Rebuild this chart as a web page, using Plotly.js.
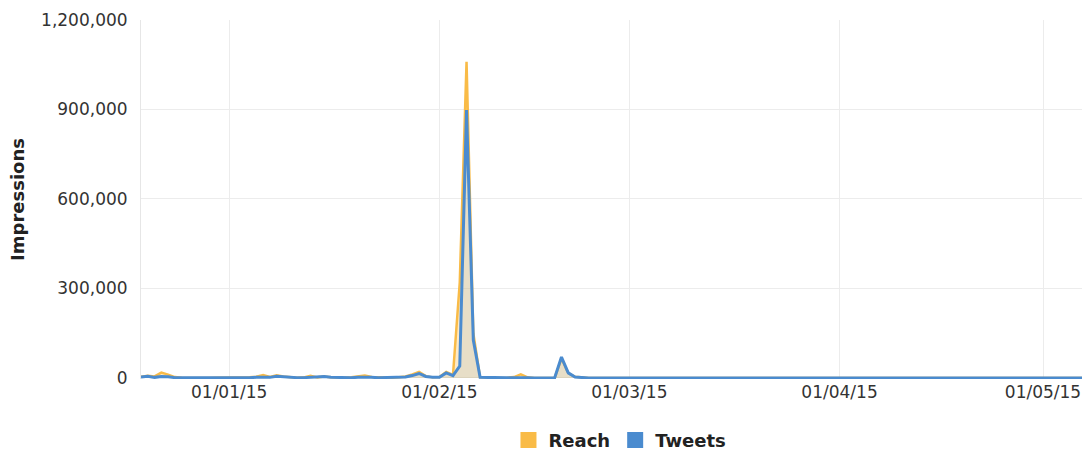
<!DOCTYPE html>
<html>
<head>
<meta charset="utf-8">
<script src="https://cdn.plot.ly/plotly-3.0.1.min.js"></script>
<style>
  html, body { margin: 0; padding: 0; background: #ffffff; }
  #chart { width: 1082px; height: 451px; }
</style>
</head>
<body>
<div id="chart"></div>
<script>
// Daily series, first day 2014-12-19
const startDate = '2014-12-19';
const seriesNames = ['Reach', 'Tweets'];
const reach = [
  4000, 7000, 5000, 18000, 11000, 3000, 1000, 500, 2000, 1000, 0, 1000, 1000,           // Dec 19-31
  500, 1000, 500, 2000, 4000, 10000, 3000, 9000, 5000, 3000, 1000, 2000, 7000, 2000,   // Jan 1-14
  5000, 2000, 1000, 1000, 2000, 4000, 8000, 3000, 2000, 1000, 1000, 2000, 5000, 12000, // Jan 15-28
  20000, 6000, 2000,                                                                  // Jan 29-31
  3000, 20000, 10000, 320000, 1060000, 150000, 2000, 1000, 1000, 0, 1000, 3000, 12000, 2000, // Feb 1-14
  0, 500, 1000, 1000, 65000, 16000, 4000, 1000, 0, 0, 0, 0, 0, 0,                       // Feb 15-28
  0,0,0,0,0,0,0,0,0,0,0,0,0,0,0,0,0,0,0,0,0,0,0,0,0,0,0,0,0,0,0,                       // Mar
  0,0,0,0,0,0,0,0,0,0,0,0,0,0,0,0,0,0,0,0,0,0,0,0,0,0,0,0,0,0,                         // Apr
  0,0,0,0,0,0,0                                                                       // May 1-7
];
const tweets = [
  3000, 6000, 2000, 5000, 4000, 1000, 1000, 500, 1000, 1000, 0, 500, 1000,
  500, 1000, 500, 1000, 2000, 3000, 2000, 6000, 4000, 2000, 1000, 1000, 2000, 2000,
  5000, 2000, 1000, 500, 1000, 2000, 3000, 2000, 1000, 1000, 1000, 1000, 3000, 8000,
  15000, 5000, 2000,
  2000, 17000, 8000, 40000, 898000, 127000, 2000, 1000, 1000, 0, 500, 1000, 2000, 1000,
  0, 500, 1000, 1000, 70000, 17000, 3000, 1000, 0, 0, 0, 0, 0, 0,
  0,0,0,0,0,0,0,0,0,0,0,0,0,0,0,0,0,0,0,0,0,0,0,0,0,0,0,0,0,0,0,
  0,0,0,0,0,0,0,0,0,0,0,0,0,0,0,0,0,0,0,0,0,0,0,0,0,0,0,0,0,0,
  0,0,0,0,0,0,0
];
const yTicks = [0, 300000, 600000, 900000, 1200000];

const ORANGE = '#f9bb47';
const BLUE = '#4a8bcf';
const DAY = 86400000;

const traces = [
  {
    name: seriesNames[0], type: 'scatter', mode: 'lines',
    x0: startDate, dx: DAY, y: reach,
    line: { color: ORANGE, width: 2.5 },
    fill: 'tozeroy', fillcolor: 'rgba(249,187,71,0.30)',
    showlegend: false, hoverinfo: 'skip'
  },
  {
    name: seriesNames[1], type: 'scatter', mode: 'lines',
    x0: startDate, dx: DAY, y: tweets,
    line: { color: BLUE, width: 3 },
    fill: 'tozeroy', fillcolor: 'rgba(74,139,207,0.12)',
    showlegend: false, hoverinfo: 'skip'
  },
  {
    name: seriesNames[0], type: 'scatter', mode: 'markers',
    x: [null], y: [null],
    marker: { symbol: 'square', size: 16, color: ORANGE }
  },
  {
    name: seriesNames[1], type: 'scatter', mode: 'markers',
    x: [null], y: [null],
    marker: { symbol: 'square', size: 16, color: BLUE }
  }
];

const layout = {
  width: 1082, height: 451,
  margin: { l: 141, r: 0, t: 20, b: 72, autoexpand: false },
  paper_bgcolor: '#ffffff', plot_bgcolor: '#ffffff',
  font: { family: 'DejaVu Sans, Liberation Sans, sans-serif', size: 17, color: '#333333' },
  showlegend: true,
  legend: {
    orientation: 'h', x: 0.509, xanchor: 'center',
    yref: 'container', y: 0.024, yanchor: 'middle',
    font: { family: 'DejaVu Sans, sans-serif', size: 18, color: '#222222', weight: 'bold' },
    itemclick: false, itemdoubleclick: false, traceorder: 'normal'
  },
  xaxis: {
    type: 'date',
    range: ['2014-12-19', '2015-05-06 18:00'],
    tick0: '2015-01-01', dtick: 'M1',
    tickformat: '%d/%m/%y',
    showgrid: true, gridcolor: '#ececec', gridwidth: 1,
    zeroline: false, showline: false,
    ticks: '', ticklabelstandoff: 1,
    tickfont: { size: 17, color: '#333333' }
  },
  yaxis: {
    range: [-3500, 1200000],
    tickvals: yTicks, tickformat: ',',
    showgrid: true, gridcolor: '#ececec', gridwidth: 1,
    zeroline: false, showline: true, linecolor: '#e6e6e6', linewidth: 1,
    ticks: '', ticklabelstandoff: 9,
    tickfont: { size: 17, color: '#333333' },
    title: { text: 'Impressions', font: { size: 18, color: '#222222', weight: 'bold' }, standoff: 11 }
  }
};

Plotly.newPlot('chart', traces, layout, { staticPlot: true, displayModeBar: false });
</script>
</body>
</html>
